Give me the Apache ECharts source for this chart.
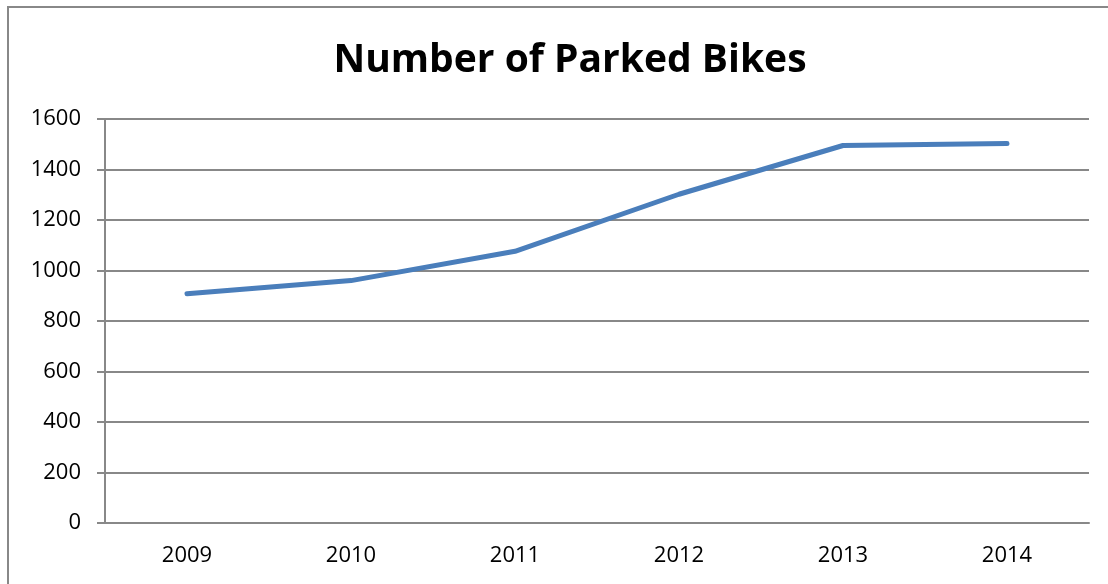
<!DOCTYPE html>
<html lang="en">
<head>
    <meta charset="UTF-8">
    <title>Number of Parked Bikes</title>
    <style>
        html, body {
            margin: 0;
            padding: 0;
            background: #fff;
        }

        #chart1 {
            width: 1108px;
            height: 584px;
        }
    </style>
</head>
<body>
<div id="chart1"></div>
<script src="https://cdn.jsdelivr.net/npm/echarts@6/dist/echarts.min.js"></script>
<script type="text/javascript">
    var years = ['2009', '2010', '2011', '2012', '2013', '2014'];
    var bikes = [908, 960, 1076, 1302, 1495, 1503];
    var yTicks = [0, 200, 400, 600, 800, 1000, 1200, 1400, 1600];

    var chart1 = echarts.init(document.getElementById('chart1'));
    var fontName = 'Open Sans';

    chart1.setOption({
        animation: false,
        title: {
            text: 'Number of Parked Bikes',
            left: 565,
            top: 36,
            textAlign: 'center',
            textStyle: {
                fontFamily: fontName,
                fontWeight: 'bold',
                fontSize: 39,
                color: '#000'
            }
        },
        graphic: [{
            type: 'rect',
            shape: {x: 8, y: 7, width: 1300, height: 900},
            style: {fill: 'none', stroke: '#888', lineWidth: 2},
            silent: true
        }],
        grid: {
            left: 105,
            right: 19,
            top: 119,
            bottom: 61
        },
        xAxis: {
            type: 'category',
            data: years,
            axisLine: {lineStyle: {color: '#888', width: 2}},
            axisTick: {length: 7, lineStyle: {color: '#888', width: 2}},
            axisLabel: {
                margin: 22,
                fontFamily: fontName,
                fontSize: 22,
                color: '#000'
            }
        },
        yAxis: {
            type: 'value',
            min: yTicks[0],
            max: yTicks[yTicks.length - 1],
            interval: 200,
            axisLine: {show: true, lineStyle: {color: '#888', width: 2}},
            axisTick: {show: true, length: 8, lineStyle: {color: '#888', width: 2}},
            splitLine: {lineStyle: {color: '#888', width: 2}},
            axisLabel: {
                margin: 24,
                fontFamily: fontName,
                fontSize: 22,
                color: '#000',
                formatter: function (v) {
                    return String(v);
                }
            }
        },
        series: [{
            type: 'line',
            data: bikes,
            showSymbol: false,
            lineStyle: {color: '#4a7ebb', width: 5, cap: 'round'}
        }]
    });
</script>
</body>
</html>
